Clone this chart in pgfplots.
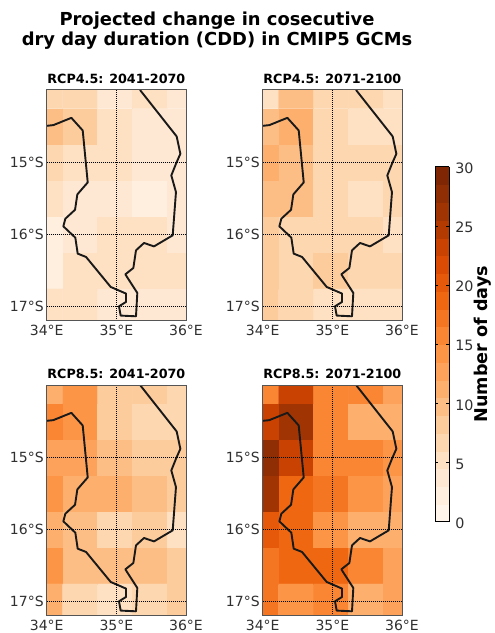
\documentclass[border=0pt]{standalone}
\usepackage{fontspec}
\setmainfont{DejaVu Sans}
\usepackage{pgfplots}
\pgfplotsset{compat=1.18}
\usepackage{pgfplotstable}
\definecolor{ticktxt}{HTML}{303030}
\definecolor{framec}{HTML}{555555}
\pgfplotstableread{
lon lat
35.34 -14.0
35.866 -14.644
35.919 -14.885
35.856 -15.023
35.789 -15.185
35.856 -15.416
35.809 -16.016
35.541 -16.169
35.397 -16.122
35.282 -16.224
35.244 -16.469
35.129 -16.557
35.301 -16.815
35.282 -17.139
35.062 -17.129
35.038 -17.0
35.139 -16.94
35.139 -16.824
34.919 -16.732
34.565 -16.316
34.445 -16.27
34.411 -16.048
34.239 -15.891
34.268 -15.785
34.407 -15.661
34.44 -15.448
34.589 -15.282
34.517 -14.561
34.354 -14.386
34.096 -14.487
34.0 -14.497
}\coast
\pgfplotsset{
  panel/.style={
    scale only axis, width=139.3bp, height=230.7bp, anchor=north west,
    xmin=34, xmax=36, ymin=-17.2, ymax=-14,
    xtick={34,35,36}, xticklabels={34°E,35°E,36°E},
    ytick={-15,-16,-17}, yticklabels={15°S,16°S,17°S},
    major tick length=0pt,
    tick label style={font=\fontsize{14bp}{15bp}\selectfont, text=ticktxt},
    xticklabel style={yshift=-1bp},
    yticklabel style={xshift=0.5bp},
    axis line style={draw=framec, line width=1bp},
    grid=major, grid style={black, dash pattern=on 1bp off 1bp, line width=0.9bp},
    axis on top,
    title style={font=\bfseries\fontsize{12.7bp}{14bp}\selectfont, yshift=-3.5bp, text=black},
    colormap access=piecewise constant,
    point meta min=0, point meta max=30,
    colormap={oranges20}{
      rgb255=(255,245,235) rgb255=(255,239,223) rgb255=(254,232,211) rgb255=(254,224,194)
      rgb255=(253,215,176) rgb255=(253,204,156) rgb255=(253,190,133) rgb255=(253,176,110)
      rgb255=(253,162,90)  rgb255=(253,149,70)  rgb255=(250,133,51)  rgb255=(245,118,34)
      rgb255=(240,103,18)  rgb255=(230,89,10)   rgb255=(220,75,3)    rgb255=(201,66,2)
      rgb255=(179,59,2)    rgb255=(160,52,3)    rgb255=(143,45,4)    rgb255=(127,39,4)
    },
  },
  cddcells/.style={matrix plot*, mesh/cols=5, point meta=explicit, draw=none, forget plot},
  cddcoast/.style={sharp plot, black!90, line width=1.9bp, line join=round, no markers, forget plot, mesh/check=false, point meta=none},
}
\begin{document}
\begin{tikzpicture}[x=1bp,y=1bp]
\useasboundingbox (0,0) rectangle (495,-633);

\node[font=\bfseries\fontsize{17.9bp}{20bp}\selectfont, align=center, text=black] at (217,-31) {Projected change in cosecutive\\dry day duration (CDD) in CMIP5 GCMs};

% RCP4.5 2041-2070
\begin{axis}[panel, at={(46.7bp,-90bp)}, title={RCP4.5: 2041-2070}]
\addplot[cddcells] coordinates {
(33.98,-14.01)[6.75] (34.48,-14.01)[6.75] (34.98,-14.01)[3.75] (35.48,-14.01)[5.25] (35.98,-14.01)[3.75]
(33.98,-14.51)[9.75] (34.48,-14.51)[8.25] (34.98,-14.51)[5.25] (35.48,-14.51)[3.75] (35.98,-14.51)[3.75]
(33.98,-15.01)[6.75] (34.48,-15.01)[5.25] (34.98,-15.01)[5.25] (35.48,-15.01)[3.75] (35.98,-15.01)[3.75]
(33.98,-15.51)[5.25] (34.48,-15.51)[3.75] (34.98,-15.51)[3.75] (35.48,-15.51)[2.25] (35.98,-15.51)[3.75]
(33.98,-16.01)[2.25] (34.48,-16.01)[3.75] (34.98,-16.01)[5.25] (35.48,-16.01)[5.25] (35.98,-16.01)[3.75]
(33.98,-16.51)[2.25] (34.48,-16.51)[5.25] (34.98,-16.51)[5.25] (35.48,-16.51)[5.25] (35.98,-16.51)[5.25]
(33.98,-17.01)[5.25] (34.48,-17.01)[5.25] (34.98,-17.01)[3.75] (35.48,-17.01)[3.75] (35.98,-17.01)[3.75]
};
\addplot[cddcoast] table[x=lon,y=lat] {\coast};
\end{axis}

% RCP4.5 2071-2100
\begin{axis}[panel, at={(262.7bp,-90bp)}, title={RCP4.5: 2071-2100},
  colorbar sampled,
  colorbar style={
    samples=21, scale only axis, width=14bp, height=355bp,
    at={(1.239,0.6675)}, anchor=north west,
    ytick={0,5,...,30}, yticklabel pos=right,
    major tick length=3bp,
    tick style={draw=black, line width=0.6bp},
    yticklabel style={font=\fontsize{14.3bp}{15bp}\selectfont, text=ticktxt, xshift=2.5bp, yshift=-1.5bp, /pgf/number format/assume math mode=true},
    axis line style={draw=black, line width=1bp},
    ylabel={Number of days},
    ylabel style={font=\bfseries\fontsize{17.6bp}{18bp}\selectfont, text=black, yshift=3bp, inner sep=0pt},
    shader=flat, grid=none,
  }]
\addplot[cddcells] coordinates {
(33.98,-14.01)[5.25] (34.48,-14.01)[9.75] (34.98,-14.01)[6.75] (35.48,-14.01)[6.75] (35.98,-14.01)[5.25]
(33.98,-14.51)[9.75] (34.48,-14.51)[11.25] (34.98,-14.51)[6.75] (35.48,-14.51)[5.25] (35.98,-14.51)[5.25]
(33.98,-15.01)[11.25] (34.48,-15.01)[9.75] (34.98,-15.01)[6.75] (35.48,-15.01)[6.75] (35.98,-15.01)[6.75]
(33.98,-15.51)[9.75] (34.48,-15.51)[9.75] (34.98,-15.51)[6.75] (35.48,-15.51)[5.25] (35.98,-15.51)[6.75]
(33.98,-16.01)[8.25] (34.48,-16.01)[6.75] (34.98,-16.01)[6.75] (35.48,-16.01)[6.75] (35.98,-16.01)[5.25]
(33.98,-16.51)[8.25] (34.48,-16.51)[6.75] (34.98,-16.51)[8.25] (35.48,-16.51)[6.75] (35.98,-16.51)[6.75]
(33.98,-17.01)[8.25] (34.48,-17.01)[6.75] (34.98,-17.01)[5.25] (35.48,-17.01)[5.25] (35.98,-17.01)[5.25]
};
\addplot[cddcoast] table[x=lon,y=lat] {\coast};
\end{axis}

% RCP8.5 2041-2070
\begin{axis}[panel, at={(46.7bp,-385bp)}, title={RCP8.5: 2041-2070}]
\addplot[cddcells] coordinates {
(33.98,-14.01)[11.25] (34.48,-14.01)[14.25] (34.98,-14.01)[8.25] (35.48,-14.01)[8.25] (35.98,-14.01)[6.75]
(33.98,-14.51)[15.75] (34.48,-14.51)[14.25] (34.98,-14.51)[8.25] (35.48,-14.51)[6.75] (35.98,-14.51)[6.75]
(33.98,-15.01)[12.75] (34.48,-15.01)[12.75] (34.98,-15.01)[9.75] (35.48,-15.01)[8.25] (35.98,-15.01)[8.25]
(33.98,-15.51)[14.25] (34.48,-15.51)[11.25] (34.98,-15.51)[11.25] (35.48,-15.51)[9.75] (35.98,-15.51)[8.25]
(33.98,-16.01)[11.25] (34.48,-16.01)[9.75] (34.98,-16.01)[6.75] (35.48,-16.01)[8.25] (35.98,-16.01)[5.25]
(33.98,-16.51)[14.25] (34.48,-16.51)[9.75] (34.98,-16.51)[9.75] (35.48,-16.51)[9.75] (35.98,-16.51)[8.25]
(33.98,-17.01)[11.25] (34.48,-17.01)[6.75] (34.98,-17.01)[5.25] (35.48,-17.01)[6.75] (35.98,-17.01)[8.25]
};
\addplot[cddcoast] table[x=lon,y=lat] {\coast};
\end{axis}

% RCP8.5 2071-2100
\begin{axis}[panel, at={(262.7bp,-385bp)}, title={RCP8.5: 2071-2100}]
\addplot[cddcells] coordinates {
(33.98,-14.01)[15.75] (34.48,-14.01)[23.25] (34.98,-14.01)[15.75] (35.48,-14.01)[15.75] (35.98,-14.01)[12.75]
(33.98,-14.51)[23.25] (34.48,-14.51)[26.25] (34.98,-14.51)[15.75] (35.48,-14.51)[11.25] (35.98,-14.51)[11.25]
(33.98,-15.01)[27.75] (34.48,-15.01)[23.25] (34.98,-15.01)[15.75] (35.48,-15.01)[15.75] (35.98,-15.01)[14.25]
(33.98,-15.51)[26.25] (34.48,-15.51)[18.75] (34.98,-15.51)[17.25] (35.48,-15.51)[14.25] (35.98,-15.51)[12.75]
(33.98,-16.01)[20.25] (34.48,-16.01)[18.75] (34.98,-16.01)[14.25] (35.48,-16.01)[11.25] (35.98,-16.01)[11.25]
(33.98,-16.51)[17.25] (34.48,-16.51)[18.75] (34.98,-16.51)[18.75] (35.48,-16.51)[15.75] (35.98,-16.51)[12.75]
(33.98,-17.01)[17.25] (34.48,-17.01)[14.25] (34.98,-17.01)[15.75] (35.48,-17.01)[11.25] (35.98,-17.01)[12.75]
};
\addplot[cddcoast] table[x=lon,y=lat] {\coast};
\end{axis}
\end{tikzpicture}
\end{document}
